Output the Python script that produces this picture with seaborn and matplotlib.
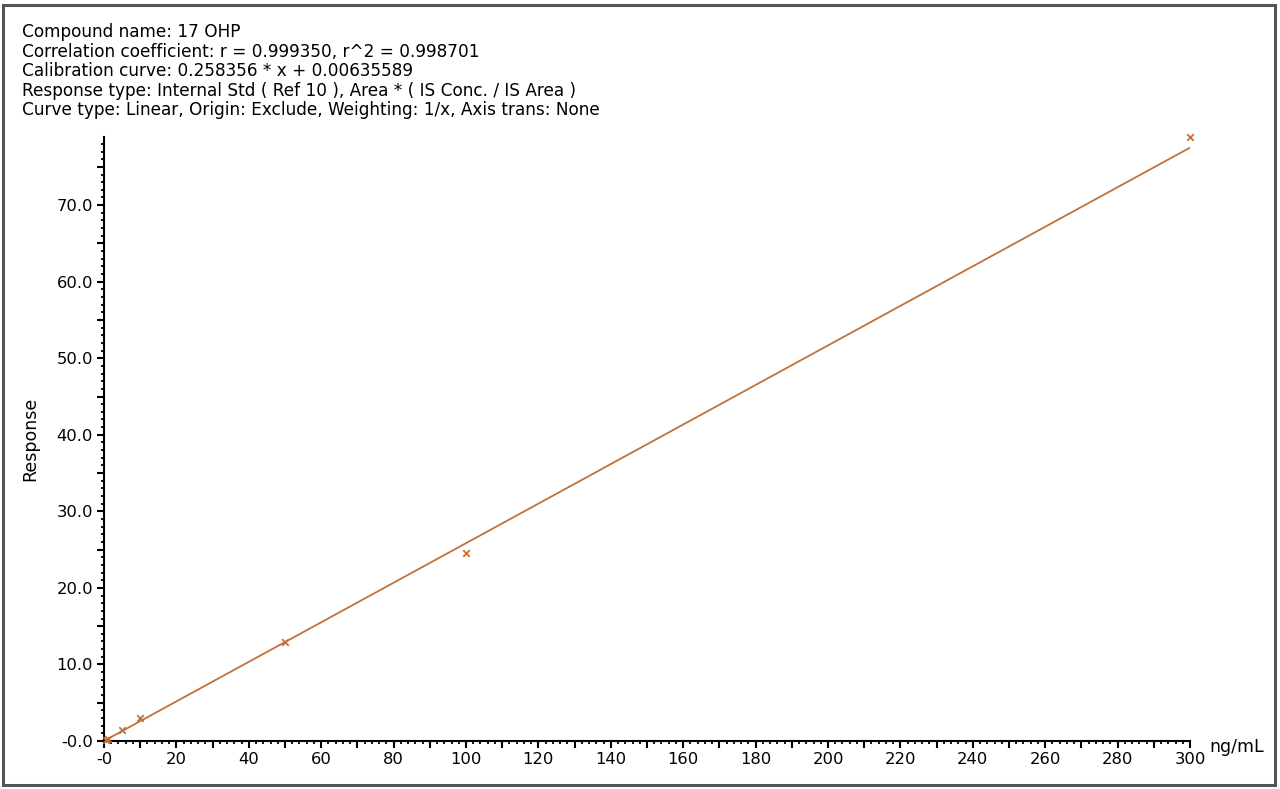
import matplotlib
matplotlib.use("Agg")
import matplotlib.pyplot as plt
import seaborn as sns
import pandas as pd
from matplotlib.patches import Rectangle
from matplotlib.ticker import MultipleLocator, FuncFormatter

# ── Data ───────────────────────────────────────────────────────────────────────
conc     = [0.5, 1.0, 5.0, 10.0, 50.0, 100.0, 300.0]      # ng/mL
response = [0.13, 0.27, 1.44, 3.02, 12.9, 24.5, 78.9]
fit_x    = [0.0, 300.0]
fit_y    = [0.006, 77.51]

header = [
    "Compound name: 17 OHP",
    "Correlation coefficient: r = 0.999350, r^2 = 0.998701",
    "Calibration curve: 0.258356 * x + 0.00635589",
    "Response type: Internal Std ( Ref 10 ), Area * ( IS Conc. / IS Area )",
    "Curve type: Linear, Origin: Exclude, Weighting: 1/x, Axis trans: None",
]

COLOR = "#c2713a"

# ── Figure ─────────────────────────────────────────────────────────────────────
sns.set_style("ticks")
plt.rcParams["font.family"] = ["DejaVu Sans"]
plt.rcParams["text.color"] = "black"
plt.rcParams["axes.labelcolor"] = "black"

fig = plt.figure(figsize=(12.8, 7.89), dpi=100)
ax = fig.add_axes([104 / 1280, 1 - 741 / 789, 1086 / 1280, 604 / 789])

pts = pd.DataFrame({"conc": conc, "response": response})
fit = pd.DataFrame({"conc": fit_x, "response": fit_y})

sns.lineplot(data=fit, x="conc", y="response", ax=ax, color=COLOR, lw=1.3)
sns.scatterplot(data=pts, x="conc", y="response", ax=ax, marker="x",
                color=COLOR, s=22, linewidth=1.3, clip_on=False, zorder=5)

ax.set_xlim(0, 300)
ax.set_ylim(0, 78.9)

ax.xaxis.set_major_locator(MultipleLocator(10))
ax.xaxis.set_minor_locator(MultipleLocator(2))
ax.yaxis.set_major_locator(MultipleLocator(5))
ax.yaxis.set_minor_locator(MultipleLocator(1))

def xfmt(v, pos):
    if abs(v) < 1e-9:
        return "-0"
    return f"{v:.0f}" if round(v) % 20 == 0 else ""

def yfmt(v, pos):
    if abs(v) < 1e-9:
        return "-0.0"
    return f"{v:.1f}" if round(v) % 10 == 0 else ""

ax.xaxis.set_major_formatter(FuncFormatter(xfmt))
ax.yaxis.set_major_formatter(FuncFormatter(yfmt))

ax.tick_params(which="major", direction="out", length=5, width=1.5,
               labelsize=11.8, colors="black", pad=3)
ax.tick_params(which="minor", direction="out", length=2.5, width=1.3,
               colors="black")

for side in ["top", "right"]:
    ax.spines[side].set_visible(False)
for side in ["left", "bottom"]:
    ax.spines[side].set_linewidth(1.5)
    ax.spines[side].set_color("black")

ax.set_xlabel("")
ax.set_ylabel("Response", fontsize=12.5)
ax.yaxis.set_label_coords(-0.0595, 0.5)

ax.annotate("ng/mL", xy=(1.0, 0.0), xycoords="axes fraction",
            xytext=(14, -4), textcoords="offset points",
            ha="left", va="center", fontsize=12.5)

# header text
fig.text(22 / 1280, 1 - 23 / 789, "\n".join(header), ha="left", va="top",
         fontsize=12.2, linespacing=1.11)

# outer frame
fig.add_artist(Rectangle((3 / 1280, 4 / 789), 1272 / 1280, 780 / 789,
                         transform=fig.transFigure, fill=False,
                         edgecolor="#555555", lw=2.2))

fig.savefig("out.png", dpi=100)
